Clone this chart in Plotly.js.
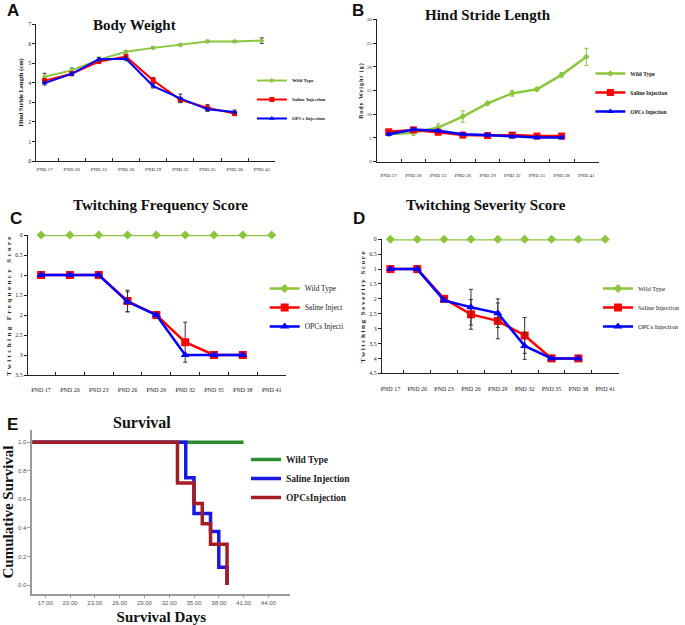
<!DOCTYPE html>
<html><head><meta charset="utf-8">
<script src="https://cdn.plot.ly/plotly-3.0.1.min.js"></script>
<style>html,body{margin:0;padding:0;background:#fff}#chart{width:685px;height:625px}</style>
</head><body><div id="chart"></div>
<script>
// ---------- data ----------
const categories = ["PND 17","PND 20","PND 23","PND 26","PND 29","PND 32","PND 35","PND 38","PND 41"];
const seriesNames = ["Wild Type","Saline Injection","OPCs Injection"];
const seriesNamesC = ["Wild Type","Saline Inject","OPCs Injecti"];

// A: Body Weight
const bodyWT        = [4.30, 4.63, 5.18, 5.58, 5.78, 5.93, 6.11, 6.11, 6.15];
const bodyWTErr     = [0.18, 0.12, 0.08, 0.05, 0.05, 0.05, 0.06, 0.05, 0.14];
const bodySaline    = [4.10, 4.46, 5.08, 5.33, 4.12, 3.13, 2.72, 2.42];
const bodySalineErr = [0.12, 0.10, 0.10, 0.10, 0.15, 0.12, 0.16, 0.08];
const bodyOPCs      = [3.98, 4.45, 5.20, 5.22, 3.83, 3.20, 2.64, 2.50];
const bodyOPCsErr   = [0.10, 0.08, 0.10, 0.10, 0.10, 0.22, 0.10, 0.10];

// B: Hind Stride Length
const strideWT        = [5.8, 6.1, 7.2, 9.5, 12.3, 14.4, 15.25, 18.3, 22.1];
const strideWTErr     = [0.3, 0.6, 0.8, 1.2, 0.4, 0.6, 0.4, 0.5, 1.8];
const strideSaline    = [6.3, 6.7, 6.2, 5.6, 5.5, 5.6, 5.4, 5.4];
const strideSalineErr = [0.4, 0.4, 0.4, 0.4, 0.4, 0.4, 0.4, 0.4];
const strideOPCs      = [5.8, 6.8, 6.5, 5.8, 5.6, 5.3, 5.1, 5.1];
const strideOPCsErr   = [0.3, 0.3, 0.3, 0.3, 0.3, 0.3, 0.3, 0.3];

// C: Twitching Frequency Score
const freqWT        = [0, 0, 0, 0, 0, 0, 0, 0, 0];
const freqSaline    = [1, 1, 1, 1.65, 2, 2.68, 3, 3];
const freqSalineErr = [0, 0, 0, 0.27, 0.03, 0.5, 0, 0.03];
const freqOPCs      = [1, 1, 1, 1.67, 2, 3, 3, 3];
const freqOPCsErr   = [0, 0, 0, 0.25, 0, 0, 0, 0];

// D: Twitching Severity Score
const sevWT        = [0, 0, 0, 0, 0, 0, 0, 0, 0];
const sevSaline    = [1, 1, 2, 2.52, 2.74, 3.23, 4, 4];
const sevSalineErr = [0.05, 0, 0.08, 0.5, 0.6, 0.6, 0.05, 0.05];
const sevOPCs      = [1, 1, 2.05, 2.28, 2.48, 3.58, 4, 4];
const sevOPCsErr   = [0.05, 0.05, 0.05, 0.6, 0.48, 0.45, 0, 0];

// E: Survival (Kaplan-Meier steps)
const survDaysWT     = [0, 41];
const survWT         = [1, 1];
const survDaysSaline = [0, 34, 35, 37, 38, 39];
const survSaline     = [1, 0.75, 0.5, 0.375, 0.125, 0];
const survDaysOPCs   = [0, 33, 35, 36, 37, 39];
const survOPCs       = [1, 0.714, 0.571, 0.429, 0.286, 0];
const survTicks      = [17, 20, 23, 26, 29, 32, 35, 38, 41, 44];

// ---------- layout helpers ----------
const W = 685, H = 625;
const px = (a, b) => [a / W, b / W];
const py = (top, bottom) => [1 - bottom / H, 1 - top / H];
const SERIF = "Liberation Serif, Times New Roman, serif";
const SANS = "Liberation Sans, Arial, sans-serif";
const GREEN = "#8cc63e", RED = "#ff0000", BLUE = "#0000ff";
const KM_GREEN = "#2a8c2e", KM_BLUE = "#1818de", KM_RED = "#a31d25";

function catX(domain, anchor, range, fs, standoff) {
  return {domain, anchor, type: "category", range, showline: true, linecolor: "#222", linewidth: 1,
    ticks: "inside", ticklen: 3, tickcolor: "#222", tickson: "boundaries", showgrid: false, zeroline: false,
    tickangle: 0, tickfont: {family: SERIF, size: fs, color: "#222"}, ticklabelstandoff: standoff, fixedrange: true};
}
function valY(domain, anchor, range, dtick, fs, title, tfs, standoff) {
  return {domain, anchor, range, dtick, showline: true, linecolor: "#222", linewidth: 1,
    ticks: "outside", ticklen: 3, tickcolor: "#222", showgrid: false, zeroline: false,
    tickfont: {family: SERIF, size: fs, color: "#222"}, fixedrange: true,
    title: {text: title, font: {family: SERIF, size: tfs, color: "#222", weight: "bold"}, standoff}};
}
function series(x, y, err, name, color, symbol, msize, lw, xa, ya, leg, errColor) {
  return {x, y, name, type: "scatter", mode: "lines+markers", xaxis: xa, yaxis: ya, legend: leg,
    line: {color, width: lw}, marker: {symbol, size: msize, color, line: {width: 0}},
    error_y: err ? {type: "data", array: err, visible: true, color: errColor || "#333", thickness: 1, width: 2} : {visible: false},
    cliponaxis: false};
}

const traces = [
  // A
  series(categories, bodyWT, bodyWTErr, seriesNames[0], GREEN, "diamond", 4, 2, "x", "y", "legend"),
  series(categories.slice(0, 8), bodySaline, bodySalineErr, seriesNames[1], RED, "square", 5, 2, "x", "y", "legend"),
  series(categories.slice(0, 8), bodyOPCs, bodyOPCsErr, seriesNames[2], BLUE, "triangle-up", 5, 2, "x", "y", "legend"),
  // B
  series(categories, strideWT, strideWTErr, seriesNames[0], GREEN, "diamond", 5, 2.5, "x2", "y2", "legend2", GREEN),
  series(categories.slice(0, 8), strideSaline, strideSalineErr, seriesNames[1], RED, "square", 7, 2.5, "x2", "y2", "legend2", RED),
  series(categories.slice(0, 8), strideOPCs, strideOPCsErr, seriesNames[2], BLUE, "triangle-up", 6, 2.5, "x2", "y2", "legend2", BLUE),
  // C
  series(categories, freqWT, null, seriesNamesC[0], GREEN, "diamond", 7, 2.5, "x3", "y3", "legend3"),
  series(categories.slice(0, 8), freqSaline, freqSalineErr, seriesNamesC[1], RED, "square", 8, 2.5, "x3", "y3", "legend3"),
  series(categories.slice(0, 8), freqOPCs, freqOPCsErr, seriesNamesC[2], BLUE, "triangle-up", 8, 2.5, "x3", "y3", "legend3"),
  // D
  series(categories, sevWT, null, seriesNames[0], GREEN, "diamond", 7, 2.5, "x4", "y4", "legend4"),
  series(categories.slice(0, 8), sevSaline, sevSalineErr, seriesNames[1], RED, "square", 8, 2.5, "x4", "y4", "legend4"),
  series(categories.slice(0, 8), sevOPCs, sevOPCsErr, seriesNames[2], BLUE, "triangle-up", 8, 2.5, "x4", "y4", "legend4"),
  // E
  {x: survDaysWT, y: survWT, name: seriesNames[0], type: "scatter", mode: "lines", line: {color: KM_GREEN, width: 3.5, shape: "hv"}, xaxis: "x5", yaxis: "y5", legend: "legend5"},
  {x: survDaysSaline, y: survSaline, name: "Saline Injection", type: "scatter", mode: "lines", line: {color: KM_BLUE, width: 3.5, shape: "hv"}, xaxis: "x5", yaxis: "y5", legend: "legend5"},
  {x: survDaysOPCs, y: survOPCs, name: "OPCsInjection", type: "scatter", mode: "lines", line: {color: KM_RED, width: 3.5, shape: "hv"}, xaxis: "x5", yaxis: "y5", legend: "legend5"}
];

function leg(xl, ytop, fs, bold) {
  return {x: xl / W, y: 1 - ytop / H, xanchor: "left", yanchor: "top", bgcolor: "rgba(0,0,0,0)",
    font: {family: SERIF, size: fs, color: "#222", weight: bold ? "bold" : "normal"}, itemwidth: 30, tracegroupgap: 0};
}
function ann(text, cx, cy, size, family, extra) {
  return Object.assign({text, x: cx / W, y: 1 - cy / H, xref: "paper", yref: "paper", xanchor: "center", yanchor: "middle",
    showarrow: false, font: {family, size, color: "#111", weight: "bold"}}, extra || {});
}

const layout = {
  width: W, height: H, margin: {l: 0, r: 0, t: 0, b: 0}, paper_bgcolor: "#fff", plot_bgcolor: "rgba(0,0,0,0)",
  showlegend: true,
  xaxis: catX(px(37, 279), "y", [-0.3, 8.47], 5, 3),
  yaxis: valY(py(24, 161), "x", [0, 7], 1, 6, "Hind Stride Length (cm)", 6.5, 3),
  xaxis2: catX(px(383, 609), "y2", [-0.48, 8.52], 5, 8),
  yaxis2: valY(py(19.3, 161.7), "x2", [0, 30], 5, 5, '<span style="letter-spacing:1px">Body Weight (g)</span>', 6, 2),
  xaxis3: catX(px(28.3, 290.7), "y3", [-0.46, 8.5], 6, 9),
  yaxis3: valY(py(235, 375), "x3", [3.5, 0], 0.5, 6, '<span style="letter-spacing:2.4px">Twitching Frequency Score</span>', 7, 2),
  xaxis4: catX(px(388.3, 629.3), "y4", [-0.31, 8.52], 6, 9),
  yaxis4: valY(py(239.3, 373.3), "x4", [4.5, 0], 0.5, 6, '<span style="letter-spacing:1.6px">Twitching Severity Score</span>', 7, 2),
  xaxis5: {domain: px(33, 295), anchor: "y5", range: [15.45, 46.65], tickvals: survTicks, tickformat: ".2f",
    showline: true, linecolor: "#9a9a9a", linewidth: 2, ticks: "outside", ticklen: 2, tickcolor: "#9a9a9a",
    showgrid: false, zeroline: false, tickfont: {family: SANS, size: 6, color: "#555"}, fixedrange: true,
    ticklabelstandoff: 0,
    title: {text: "Survival Days", font: {family: SERIF, size: 15, color: "#111", weight: "bold"}, standoff: 9}},
  yaxis5: {domain: py(430, 594), anchor: "x5", range: [-0.063, 1.085], tickvals: [0, 0.2, 0.4, 0.6, 0.8, 1.0], tickformat: ".1f",
    showline: true, linecolor: "#9a9a9a", linewidth: 2, ticks: "outside", ticklen: 3, tickcolor: "#9a9a9a",
    showgrid: false, zeroline: false, tickfont: {family: SANS, size: 6, color: "#555"}, fixedrange: true,
    title: {text: "Cumulative Survival", font: {family: SERIF, size: 15, color: "#111", weight: "bold"}, standoff: 1}},
  legend: leg(256, 66, 5, true),
  legend2: leg(600, 59, 5.5, true),
  legend3: leg(269, 274, 7.5, false),
  legend4: leg(608, 274, 6.5, false),
  legend5: leg(250, 445, 9.5, true),
  annotations: [
    ann("Body Weight", 137, 25, 15, SERIF),
    ann("Hind Stride Length", 496, 15, 15, SERIF),
    ann("Twitching Frequency Score", 163, 205, 15, SERIF),
    ann("Twitching Severity Score", 494, 205, 15, SERIF),
    ann("Survival", 144, 422, 16, SERIF),
    ann("A", 13, 10, 17, SANS),
    ann("B", 364, 10, 17, SANS),
    ann("C", 16, 218, 17, SANS),
    ann("D", 365, 218, 17, SANS),
    ann("E", 13, 424, 17, SANS)
  ]
};

Plotly.newPlot("chart", traces, layout, {staticPlot: true, displayModeBar: false});
</script></body></html>
